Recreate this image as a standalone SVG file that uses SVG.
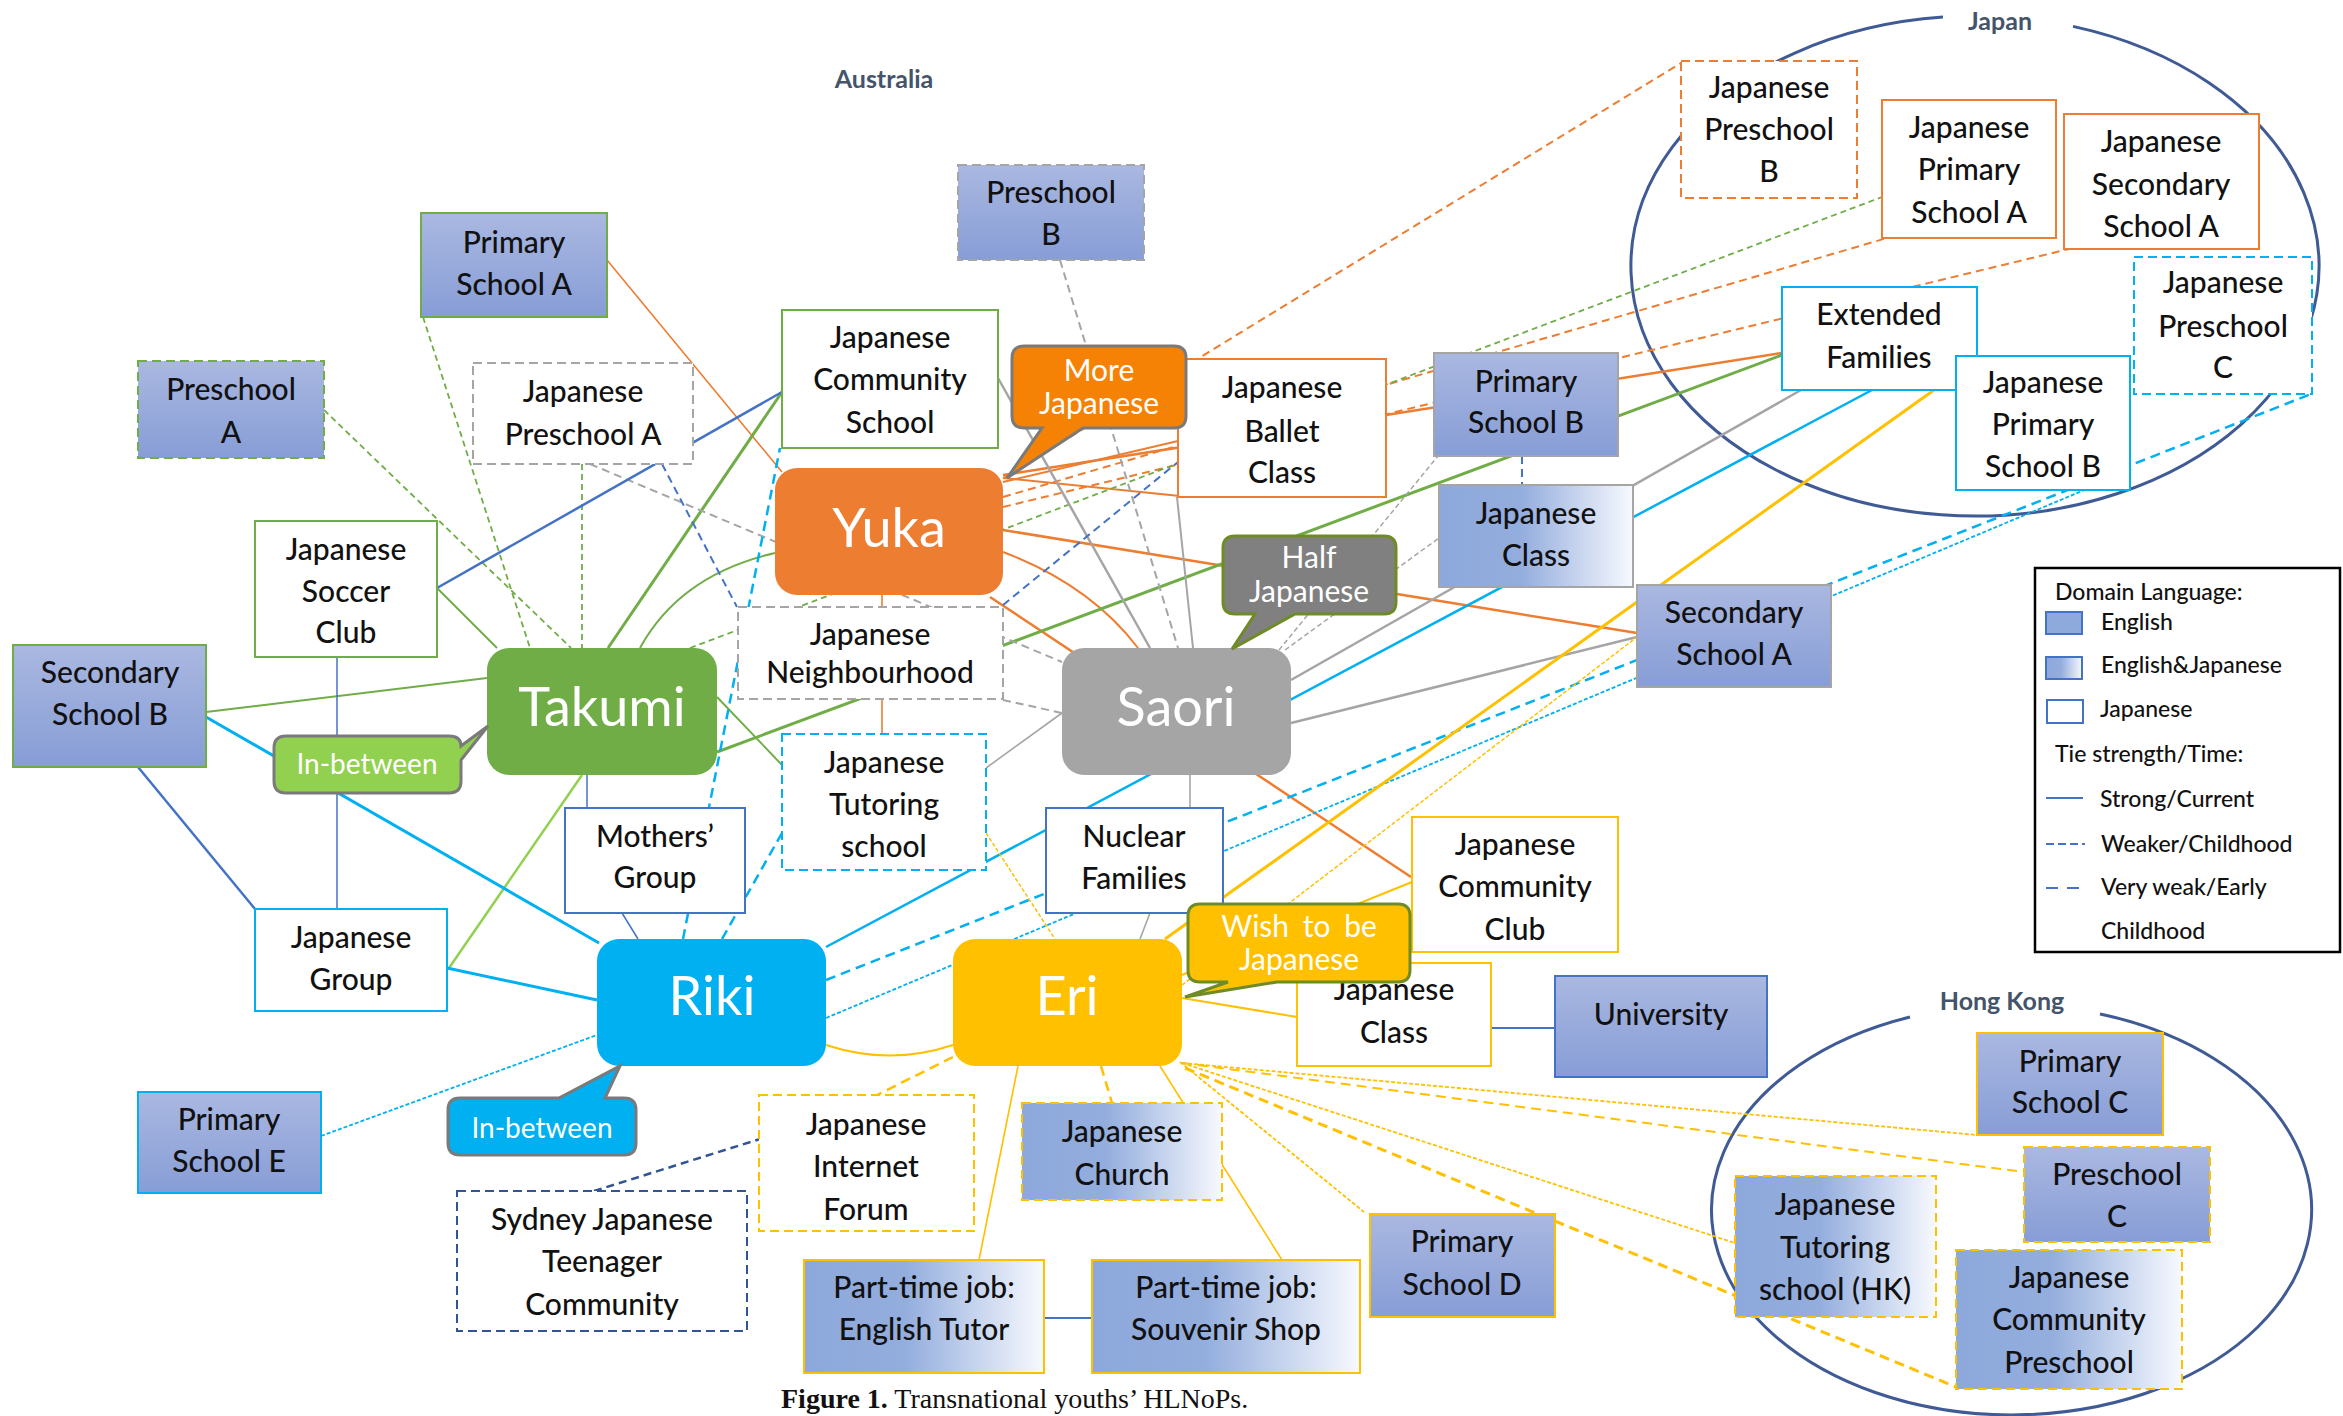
<svg xmlns="http://www.w3.org/2000/svg" width="2343" height="1416" viewBox="0 0 2343 1416">
<defs>
<linearGradient id="gEng" x1="0" y1="0" x2="0" y2="1"><stop offset="0" stop-color="#AAB8E1"/><stop offset="1" stop-color="#879DD6"/></linearGradient>
<linearGradient id="gEJ" x1="0" y1="0" x2="1" y2="0"><stop offset="0" stop-color="#8DA8DB"/><stop offset="0.42" stop-color="#93ADDD"/><stop offset="1" stop-color="#F7F9FE"/></linearGradient>
<style>
.t{font-family:Lato,"Open Sans","DejaVu Sans",sans-serif;font-size:30px;font-weight:500;fill:#111;text-anchor:middle}
.p{font-family:Lato,"Open Sans","DejaVu Sans",sans-serif;font-size:54px;fill:#fff;text-anchor:middle}
.c{font-family:Lato,"Open Sans","DejaVu Sans",sans-serif;font-size:30px;fill:#fff;text-anchor:middle}
.rl{font-family:Lato,"Open Sans","DejaVu Sans",sans-serif;font-size:25px;font-weight:bold;fill:#44546A;text-anchor:middle}
.lg{font-family:Lato,"Open Sans","DejaVu Sans",sans-serif;font-size:23px;font-weight:500;fill:#111}
.bx{stroke-width:2}
.ds{stroke-dasharray:9 5}
.reg{fill:none;stroke:#3F5A94;stroke-width:3}
#connectors line,#connectors path{fill:none;stroke-linecap:butt}
.o{stroke:#ED7D31;stroke-width:2.5}
.od{stroke:#ED7D31;stroke-width:2;stroke-dasharray:8 5}
.g{stroke:#70AD47;stroke-width:2.5}
.gd{stroke:#70AD47;stroke-width:1.8;stroke-dasharray:6 4}
.gr{stroke:#A5A5A5;stroke-width:2.5}
.grd{stroke:#A5A5A5;stroke-width:2;stroke-dasharray:8 5}
.lb{stroke:#00B0F0;stroke-width:2.5}
.lbd{stroke:#00B0F0;stroke-width:2.5;stroke-dasharray:10 6}
.lbf{stroke:#00B0F0;stroke-width:1.8;stroke-dasharray:4 2}
.y{stroke:#FFC000;stroke-width:2.5}
.yd{stroke:#FFC000;stroke-width:2.5;stroke-dasharray:10 6}
.yf{stroke:#FFC000;stroke-width:1.8;stroke-dasharray:4 2}
.b{stroke:#4472C4;stroke-width:2.5}
.bt{stroke:#4472C4;stroke-width:1.5}
.bd{stroke:#4472C4;stroke-width:2;stroke-dasharray:8 5}
</style>
</defs>
<rect width="2343" height="1416" fill="#fff"/>

<g id="regions">
<path class="reg" d="M2073,26.4 A344,250 0 1,1 1943,17.1"/>
<path class="reg" d="M2100,1014 A300,205 0 1,1 1910,1017"/>
<text class="rl" x="884" y="88">Australia</text>
<text class="rl" x="2000" y="30">Japan</text>
<text class="rl" x="2002" y="1010">Hong Kong</text>
</g>

<g id="connectors">
<!-- Yuka (orange) -->
<line class="o" style="stroke-width:1.6" x1="607" y1="260" x2="782" y2="472"/>
<line class="od" x1="1003" y1="478" x2="1681" y2="63"/>
<line class="od" x1="1003" y1="497" x2="1887" y2="238"/>
<line class="od" x1="1003" y1="507" x2="2069" y2="249"/>
<line class="o" x1="1003" y1="475" x2="1782" y2="353"/>
<line class="o" style="stroke-width:2" x1="1003" y1="482" x2="1178" y2="441"/>
<line class="o" style="stroke-width:2" x1="1003" y1="478" x2="1180" y2="496"/>
<line class="o" x1="1003" y1="530" x2="1637" y2="633"/>
<path class="o" style="stroke-width:2" d="M1003,552 Q1090,585 1138,648"/>
<line class="o" x1="990" y1="597" x2="1411" y2="877"/>
<line class="o" style="stroke-width:1.6" x1="882" y1="595" x2="882" y2="734"/>
<!-- Takumi (green) -->
<line class="gd" x1="423" y1="317" x2="530" y2="648"/>
<line class="gd" x1="324" y1="410" x2="571" y2="648"/>
<line class="gd" x1="582" y1="464" x2="582" y2="648"/>
<line class="g" style="stroke-width:2" x1="437" y1="588" x2="497" y2="648"/>
<line class="g" style="stroke-width:2" x1="206" y1="712" x2="487" y2="678"/>
<line class="g" style="stroke-width:3" x1="608" y1="648" x2="782" y2="392"/>
<path class="g" style="stroke-width:2" d="M640,648 Q680,575 775,553"/>
<line class="gd" x1="690" y1="648" x2="1882" y2="197"/>
<line class="g" style="stroke-width:3" x1="717" y1="752" x2="1782" y2="355"/>
<line class="g" style="stroke-width:2" x1="717" y1="697" x2="782" y2="765"/>
<line class="g" style="stroke:#92D050;stroke-width:2.5" x1="582" y1="775" x2="449" y2="968"/>
<!-- Saori (grey) -->
<line class="grd" x1="590" y1="464" x2="1062" y2="662"/>
<line class="grd" x1="1060" y1="260" x2="1178" y2="648"/>
<line class="gr" x1="998" y1="378" x2="1150" y2="648"/>
<line class="gr" style="stroke-width:2" x1="1177" y1="497" x2="1193" y2="648"/>
<line class="grd" x1="1003" y1="700" x2="1062" y2="713"/>
<line class="gr" style="stroke-width:1.6" x1="1062" y1="713" x2="986" y2="768"/>
<line class="grd" style="stroke-width:1.5;stroke-dasharray:5 3" x1="1279" y1="650" x2="1438" y2="456"/>
<line class="grd" style="stroke-width:1.5;stroke-dasharray:5 3" x1="1285" y1="650" x2="1439" y2="538"/>
<line class="gr" x1="1291" y1="680" x2="1801" y2="390"/>
<line class="gr" x1="1291" y1="723" x2="1637" y2="637"/>
<line class="gr" style="stroke-width:1.6" x1="1190" y1="775" x2="1190" y2="808"/>
<line class="gr" style="stroke-width:1.6" x1="1150" y1="913" x2="1140" y2="939"/>
<!-- Riki (light blue) -->
<line class="lb" style="stroke-width:3" x1="206" y1="717" x2="599" y2="943"/>
<line class="lb" style="stroke-width:3" x1="447" y1="968" x2="597" y2="1000"/>
<line class="lbf" x1="321" y1="1136" x2="597" y2="1035"/>
<line class="lbd" x1="683" y1="939" x2="780" y2="448"/>
<line class="lbd" x1="722" y1="939" x2="782" y2="833"/>
<line class="lb" x1="826" y1="947" x2="1872" y2="390"/>
<line class="lbd" x1="826" y1="980" x2="2311" y2="394"/>
<line class="lbf" x1="826" y1="1018" x2="2132" y2="470"/>
<!-- blue links -->
<line class="b" x1="437" y1="588" x2="782" y2="392"/>
<line class="b" x1="138" y1="767" x2="255" y2="909"/>
<line class="bt" x1="337" y1="657" x2="337" y2="909"/>
<line class="bt" x1="587" y1="775" x2="587" y2="808"/>
<line class="bt" x1="622" y1="913" x2="638" y2="939"/>
<line class="bd" x1="662" y1="464" x2="737" y2="607"/>
<line class="bd" x1="1003" y1="605" x2="1178" y2="462"/>
<line class="bd" x1="1522" y1="456" x2="1522" y2="485"/>
<line class="b" style="stroke-width:2" x1="1491" y1="1028" x2="1555" y2="1028"/>
<line class="b" style="stroke-width:2" x1="1044" y1="1318" x2="1092" y2="1318"/>
<line class="bd" style="stroke:#2F5597;stroke-width:2.5" x1="594" y1="1191" x2="760" y2="1139"/>
<!-- Eri (yellow) -->
<line class="y" style="stroke-width:2" x1="1182" y1="998" x2="1297" y2="1017"/>
<line class="y" style="stroke-width:2" x1="1182" y1="975" x2="1412" y2="882"/>
<line class="y" style="stroke-width:3" x1="1165" y1="939" x2="1934" y2="390"/>
<line class="yf" style="stroke-width:1.5" x1="1182" y1="985" x2="1637" y2="637"/>
<line class="yf" style="stroke-width:1.5" x1="986" y1="833" x2="1055" y2="939"/>
<path class="y" style="stroke-width:2" d="M826,1045 Q890,1066 953,1045"/>
<line class="yd" x1="953" y1="1057" x2="877" y2="1095"/>
<line class="y" style="stroke-width:1.6" x1="1018" y1="1066" x2="979" y2="1260"/>
<line class="yd" x1="1101" y1="1066" x2="1112" y2="1103"/>
<line class="y" style="stroke-width:1.6" x1="1160" y1="1066" x2="1282" y2="1260"/>
<line class="yf" x1="1180" y1="1062" x2="1364" y2="1212"/>
<line class="yf" x1="1182" y1="1063" x2="1977" y2="1135"/>
<line class="yd" style="stroke-width:2" x1="1182" y1="1063" x2="2024" y2="1172"/>
<line class="yf" x1="1182" y1="1063" x2="1735" y2="1243"/>
<line class="yd" style="stroke-width:3" x1="1185" y1="1068" x2="1956" y2="1387"/>
</g>

<g id="nodes">
<g id="n-primary-a"><rect class="bx" x="421" y="213" width="186" height="104" fill="url(#gEng)" stroke="#70AD47"/><text class="t"><tspan x="514" y="253">Primary</tspan><tspan x="514" y="295">School A</tspan></text></g>
<g id="n-preschool-a"><rect class="bx ds" x="138" y="361" width="186" height="97" fill="url(#gEng)" stroke="#70AD47"/><text class="t"><tspan x="231" y="400">Preschool</tspan><tspan x="231" y="443">A</tspan></text></g>
<g id="n-jp-preschool-a"><rect class="bx ds" x="473" y="363" width="220" height="101" fill="#fff" stroke="#A5A5A5"/><text class="t"><tspan x="583" y="402">Japanese</tspan><tspan x="583" y="445">Preschool A</tspan></text></g>
<g id="n-jp-community-school"><rect class="bx" x="782" y="310" width="216" height="138" fill="#fff" stroke="#70AD47"/><text class="t"><tspan x="890" y="348">Japanese</tspan><tspan x="890" y="390">Community</tspan><tspan x="890" y="433">School</tspan></text></g>
<g id="n-preschool-b"><rect class="bx ds" x="958" y="165" width="186" height="95" fill="url(#gEng)" stroke="#A5A5A5"/><text class="t"><tspan x="1051" y="203">Preschool</tspan><tspan x="1051" y="245">B</tspan></text></g>
<g id="n-ballet"><rect class="bx" x="1178" y="359" width="208" height="138" fill="#fff" stroke="#ED7D31"/><text class="t"><tspan x="1282" y="398">Japanese</tspan><tspan x="1282" y="442">Ballet</tspan><tspan x="1282" y="483">Class</tspan></text></g>
<g id="n-primary-b"><rect class="bx" x="1434" y="353" width="184" height="103" fill="url(#gEng)" stroke="#A5A5A5"/><text class="t"><tspan x="1526" y="392">Primary</tspan><tspan x="1526" y="433">School B</tspan></text></g>
<g id="n-jp-class-1"><rect class="bx" x="1439" y="485" width="194" height="102" fill="url(#gEJ)" stroke="#A5A5A5"/><text class="t"><tspan x="1536" y="524">Japanese</tspan><tspan x="1536" y="566">Class</tspan></text></g>
<g id="n-soccer"><rect class="bx" x="255" y="521" width="182" height="136" fill="#fff" stroke="#70AD47"/><text class="t"><tspan x="346" y="560">Japanese</tspan><tspan x="346" y="602">Soccer</tspan><tspan x="346" y="643">Club</tspan></text></g>
<g id="n-secondary-b"><rect class="bx" x="13" y="645" width="193" height="122" fill="url(#gEng)" stroke="#70AD47"/><text class="t"><tspan x="110" y="683">Secondary</tspan><tspan x="110" y="725">School B</tspan></text></g>
<g id="n-neighbourhood"><rect class="bx ds" x="738" y="607" width="265" height="92" fill="#fff" stroke="#A5A5A5"/><text class="t"><tspan x="870" y="645">Japanese</tspan><tspan x="870" y="683">Neighbourhood</tspan></text></g>
<g id="n-tutoring"><rect class="bx ds" x="782" y="734" width="204" height="136" fill="#fff" stroke="#00B0F0"/><text class="t"><tspan x="884" y="773">Japanese</tspan><tspan x="884" y="815">Tutoring</tspan><tspan x="884" y="857">school</tspan></text></g>
<g id="n-mothers"><rect class="bx" x="565" y="808" width="180" height="105" fill="#fff" stroke="#4472C4"/><text class="t"><tspan x="655" y="847">Mothers’</tspan><tspan x="655" y="888">Group</tspan></text></g>
<g id="n-nuclear"><rect class="bx" x="1046" y="808" width="177" height="105" fill="#fff" stroke="#4472C4"/><text class="t"><tspan x="1134" y="847">Nuclear</tspan><tspan x="1134" y="889">Families</tspan></text></g>
<g id="n-jp-group"><rect class="bx" x="255" y="909" width="192" height="102" fill="#fff" stroke="#00B0F0"/><text class="t"><tspan x="351" y="948">Japanese</tspan><tspan x="351" y="990">Group</tspan></text></g>
<g id="n-secondary-a"><rect class="bx" x="1637" y="585" width="194" height="102" fill="url(#gEng)" stroke="#A5A5A5"/><text class="t"><tspan x="1734" y="623">Secondary</tspan><tspan x="1734" y="665">School A</tspan></text></g>
<g id="n-jp-community-club"><rect class="bx" x="1412" y="817" width="206" height="135" fill="#fff" stroke="#FFC000"/><text class="t"><tspan x="1515" y="855">Japanese</tspan><tspan x="1515" y="897">Community</tspan><tspan x="1515" y="940">Club</tspan></text></g>
<g id="n-jp-class-2"><rect class="bx" x="1297" y="963" width="194" height="103" fill="#fff" stroke="#FFC000"/><text class="t"><tspan x="1394" y="1000">Japanese</tspan><tspan x="1394" y="1043">Class</tspan></text></g>
<g id="n-university"><rect class="bx" x="1555" y="976" width="212" height="101" fill="url(#gEng)" stroke="#4472C4"/><text class="t" x="1661" y="1025">University</text></g>
<g id="n-primary-e"><rect class="bx" x="138" y="1092" width="183" height="101" fill="url(#gEng)" stroke="#00B0F0"/><text class="t"><tspan x="229" y="1130">Primary</tspan><tspan x="229" y="1172">School E</tspan></text></g>
<g id="n-sydney"><rect class="bx ds" x="457" y="1191" width="290" height="140" fill="#fff" stroke="#2F5597"/><text class="t"><tspan x="602" y="1230">Sydney Japanese</tspan><tspan x="602" y="1272">Teenager</tspan><tspan x="602" y="1315">Community</tspan></text></g>
<g id="n-internet"><rect class="bx ds" x="759" y="1095" width="215" height="136" fill="#fff" stroke="#FFC000"/><text class="t"><tspan x="866" y="1135">Japanese</tspan><tspan x="866" y="1177">Internet</tspan><tspan x="866" y="1220">Forum</tspan></text></g>
<g id="n-church"><rect class="bx ds" x="1022" y="1103" width="200" height="97" fill="url(#gEJ)" stroke="#FFC000"/><text class="t"><tspan x="1122" y="1142">Japanese</tspan><tspan x="1122" y="1185">Church</tspan></text></g>
<g id="n-english-tutor"><rect class="bx" x="804" y="1260" width="240" height="113" fill="url(#gEJ)" stroke="#FFC000"/><text class="t"><tspan x="924" y="1298">Part-time job:</tspan><tspan x="924" y="1340">English Tutor</tspan></text></g>
<g id="n-souvenir"><rect class="bx" x="1092" y="1260" width="268" height="113" fill="url(#gEJ)" stroke="#FFC000"/><text class="t"><tspan x="1226" y="1298">Part-time job:</tspan><tspan x="1226" y="1340">Souvenir Shop</tspan></text></g>
<g id="n-primary-d"><rect class="bx" x="1370" y="1214" width="185" height="103" fill="url(#gEng)" stroke="#FFC000"/><text class="t"><tspan x="1462" y="1252">Primary</tspan><tspan x="1462" y="1295">School D</tspan></text></g>
<g id="n-jp-preschool-b"><rect class="bx ds" x="1681" y="61" width="176" height="137" fill="#fff" stroke="#ED7D31"/><text class="t"><tspan x="1769" y="98">Japanese</tspan><tspan x="1769" y="140">Preschool</tspan><tspan x="1769" y="182">B</tspan></text></g>
<g id="n-jp-primary-a"><rect class="bx" x="1882" y="100" width="174" height="138" fill="#fff" stroke="#ED7D31"/><text class="t"><tspan x="1969" y="138">Japanese</tspan><tspan x="1969" y="180">Primary</tspan><tspan x="1969" y="223">School A</tspan></text></g>
<g id="n-jp-secondary-a"><rect class="bx" x="2064" y="114" width="195" height="135" fill="#fff" stroke="#ED7D31"/><text class="t"><tspan x="2161" y="152">Japanese</tspan><tspan x="2161" y="195">Secondary</tspan><tspan x="2161" y="237">School A</tspan></text></g>
<g id="n-extended"><rect class="bx" x="1782" y="287" width="195" height="103" fill="#fff" stroke="#00B0F0"/><text class="t"><tspan x="1879" y="325">Extended</tspan><tspan x="1879" y="368">Families</tspan></text></g>
<g id="n-jp-primary-b"><rect class="bx" x="1956" y="356" width="174" height="134" fill="#fff" stroke="#00B0F0"/><text class="t"><tspan x="2043" y="393">Japanese</tspan><tspan x="2043" y="435">Primary</tspan><tspan x="2043" y="477">School B</tspan></text></g>
<g id="n-jp-preschool-c"><rect class="bx ds" x="2134" y="257" width="178" height="137" fill="#fff" stroke="#00B0F0"/><text class="t"><tspan x="2223" y="293">Japanese</tspan><tspan x="2223" y="337">Preschool</tspan><tspan x="2223" y="378">C</tspan></text></g>
<g id="n-primary-c"><rect class="bx" x="1977" y="1033" width="186" height="102" fill="url(#gEng)" stroke="#FFC000"/><text class="t"><tspan x="2070" y="1072">Primary</tspan><tspan x="2070" y="1113">School C</tspan></text></g>
<g id="n-preschool-c"><rect class="bx ds" x="2024" y="1147" width="186" height="95" fill="url(#gEng)" stroke="#FFC000"/><text class="t"><tspan x="2117" y="1185">Preschool</tspan><tspan x="2117" y="1227">C</tspan></text></g>
<g id="n-tutoring-hk"><rect class="bx ds" x="1735" y="1176" width="201" height="141" fill="url(#gEJ)" stroke="#FFC000"/><text class="t"><tspan x="1835" y="1215">Japanese</tspan><tspan x="1835" y="1258">Tutoring</tspan><tspan x="1835" y="1300">school (HK)</tspan></text></g>
<g id="n-jp-comm-preschool"><rect class="bx ds" x="1956" y="1250" width="226" height="139" fill="url(#gEJ)" stroke="#FFC000"/><text class="t"><tspan x="2069" y="1288">Japanese</tspan><tspan x="2069" y="1330">Community</tspan><tspan x="2069" y="1373">Preschool</tspan></text></g>

<g id="p-yuka"><rect x="775" y="468" width="228" height="127" rx="22" fill="#ED7D31"/><text class="p" x="889" y="547">Yuka</text></g>
<g id="p-takumi"><rect x="487" y="648" width="230" height="127" rx="22" fill="#70AD47"/><text class="p" x="602" y="726">Takumi</text></g>
<g id="p-saori"><rect x="1062" y="648" width="229" height="127" rx="22" fill="#A5A5A5"/><text class="p" x="1176" y="726">Saori</text></g>
<g id="p-riki"><rect x="597" y="939" width="229" height="127" rx="22" fill="#00B0F0"/><text class="p" x="712" y="1015">Riki</text></g>
<g id="p-eri"><rect x="953" y="939" width="229" height="127" rx="22" fill="#FFC000"/><text class="p" x="1067" y="1015">Eri</text></g>

<g id="c-more-japanese"><path d="M1024,346 H1174 Q1186,346 1186,358 V416 Q1186,428 1174,428 H1083 L1007,478 L1042,428 H1024 Q1012,428 1012,416 V358 Q1012,346 1024,346 Z" fill="#F58205" stroke="#7A7A7A" stroke-width="3"/><text class="c"><tspan x="1099" y="381">More</tspan><tspan x="1099" y="414">Japanese</tspan></text></g>
<g id="c-half-japanese"><path d="M1235,536 H1384 Q1396,536 1396,548 V602 Q1396,614 1384,614 H1295 L1232,649 L1255,614 H1235 Q1223,614 1223,602 V548 Q1223,536 1235,536 Z" fill="#808080" stroke="#6E8B25" stroke-width="3"/><text class="c"><tspan x="1309" y="568">Half</tspan><tspan x="1309" y="602">Japanese</tspan></text></g>
<g id="c-wish"><path d="M1200,904 H1398 Q1410,904 1410,916 V970 Q1410,982 1398,982 H1277 L1185,997 L1228,982 H1200 Q1188,982 1188,970 V916 Q1188,904 1200,904 Z" fill="#FFC000" stroke="#6E8B25" stroke-width="3"/><text class="c"><tspan x="1299" y="937" word-spacing="6">Wish to be</tspan><tspan x="1299" y="970">Japanese</tspan></text></g>
<g id="c-inbetween-green"><path d="M286,736 H449 Q461,736 461,746 L488,726 L461,760 V781 Q461,793 449,793 H286 Q274,793 274,781 V748 Q274,736 286,736 Z" fill="#92D050" stroke="#7A7A7A" stroke-width="3"/><text class="c" style="font-size:28px" x="367" y="774">In-between</text></g>
<g id="c-inbetween-blue"><path d="M460,1098 H559 L620,1066 L605,1098 H624 Q636,1098 636,1110 V1143 Q636,1155 624,1155 H460 Q448,1155 448,1143 V1110 Q448,1098 460,1098 Z" fill="#00B0F0" stroke="#7A7A7A" stroke-width="3"/><text class="c" style="font-size:28px" x="542" y="1138">In-between</text></g>
</g>

<g id="legend">
<rect x="2035" y="568" width="305" height="384" fill="#fff" stroke="#000" stroke-width="2.5"/>
<text class="lg" x="2055" y="600">Domain Language:</text>
<rect x="2046" y="612" width="36" height="22" fill="#8EA9DB" stroke="#4472C4" stroke-width="2"/>
<text class="lg" x="2101" y="630">English</text>
<rect x="2046" y="657" width="36" height="22" fill="url(#gEJ)" stroke="#4472C4" stroke-width="2"/>
<text class="lg" x="2101" y="673">English&amp;Japanese</text>
<rect x="2047" y="700" width="36" height="23" fill="#fff" stroke="#4472C4" stroke-width="2"/>
<text class="lg" x="2100" y="717">Japanese</text>
<text class="lg" x="2055" y="762">Tie strength/Time:</text>
<line x1="2046" y1="798" x2="2083" y2="798" stroke="#4472C4" stroke-width="2"/>
<text class="lg" x="2100" y="807">Strong/Current</text>
<line x1="2046" y1="844" x2="2085" y2="844" stroke="#4472C4" stroke-width="2" stroke-dasharray="8 4"/>
<text class="lg" x="2101" y="852">Weaker/Childhood</text>
<line x1="2046" y1="888" x2="2082" y2="888" stroke="#4472C4" stroke-width="2" stroke-dasharray="12 9"/>
<text class="lg" x="2101" y="895">Very weak/Early</text>
<text class="lg" x="2101" y="939">Childhood</text>
</g>

<text x="781" y="1408" font-family="'Liberation Serif','Times New Roman',serif" font-size="28" fill="#111"><tspan font-weight="bold">Figure 1.</tspan> Transnational youths’ HLNoPs.</text>
</svg>
